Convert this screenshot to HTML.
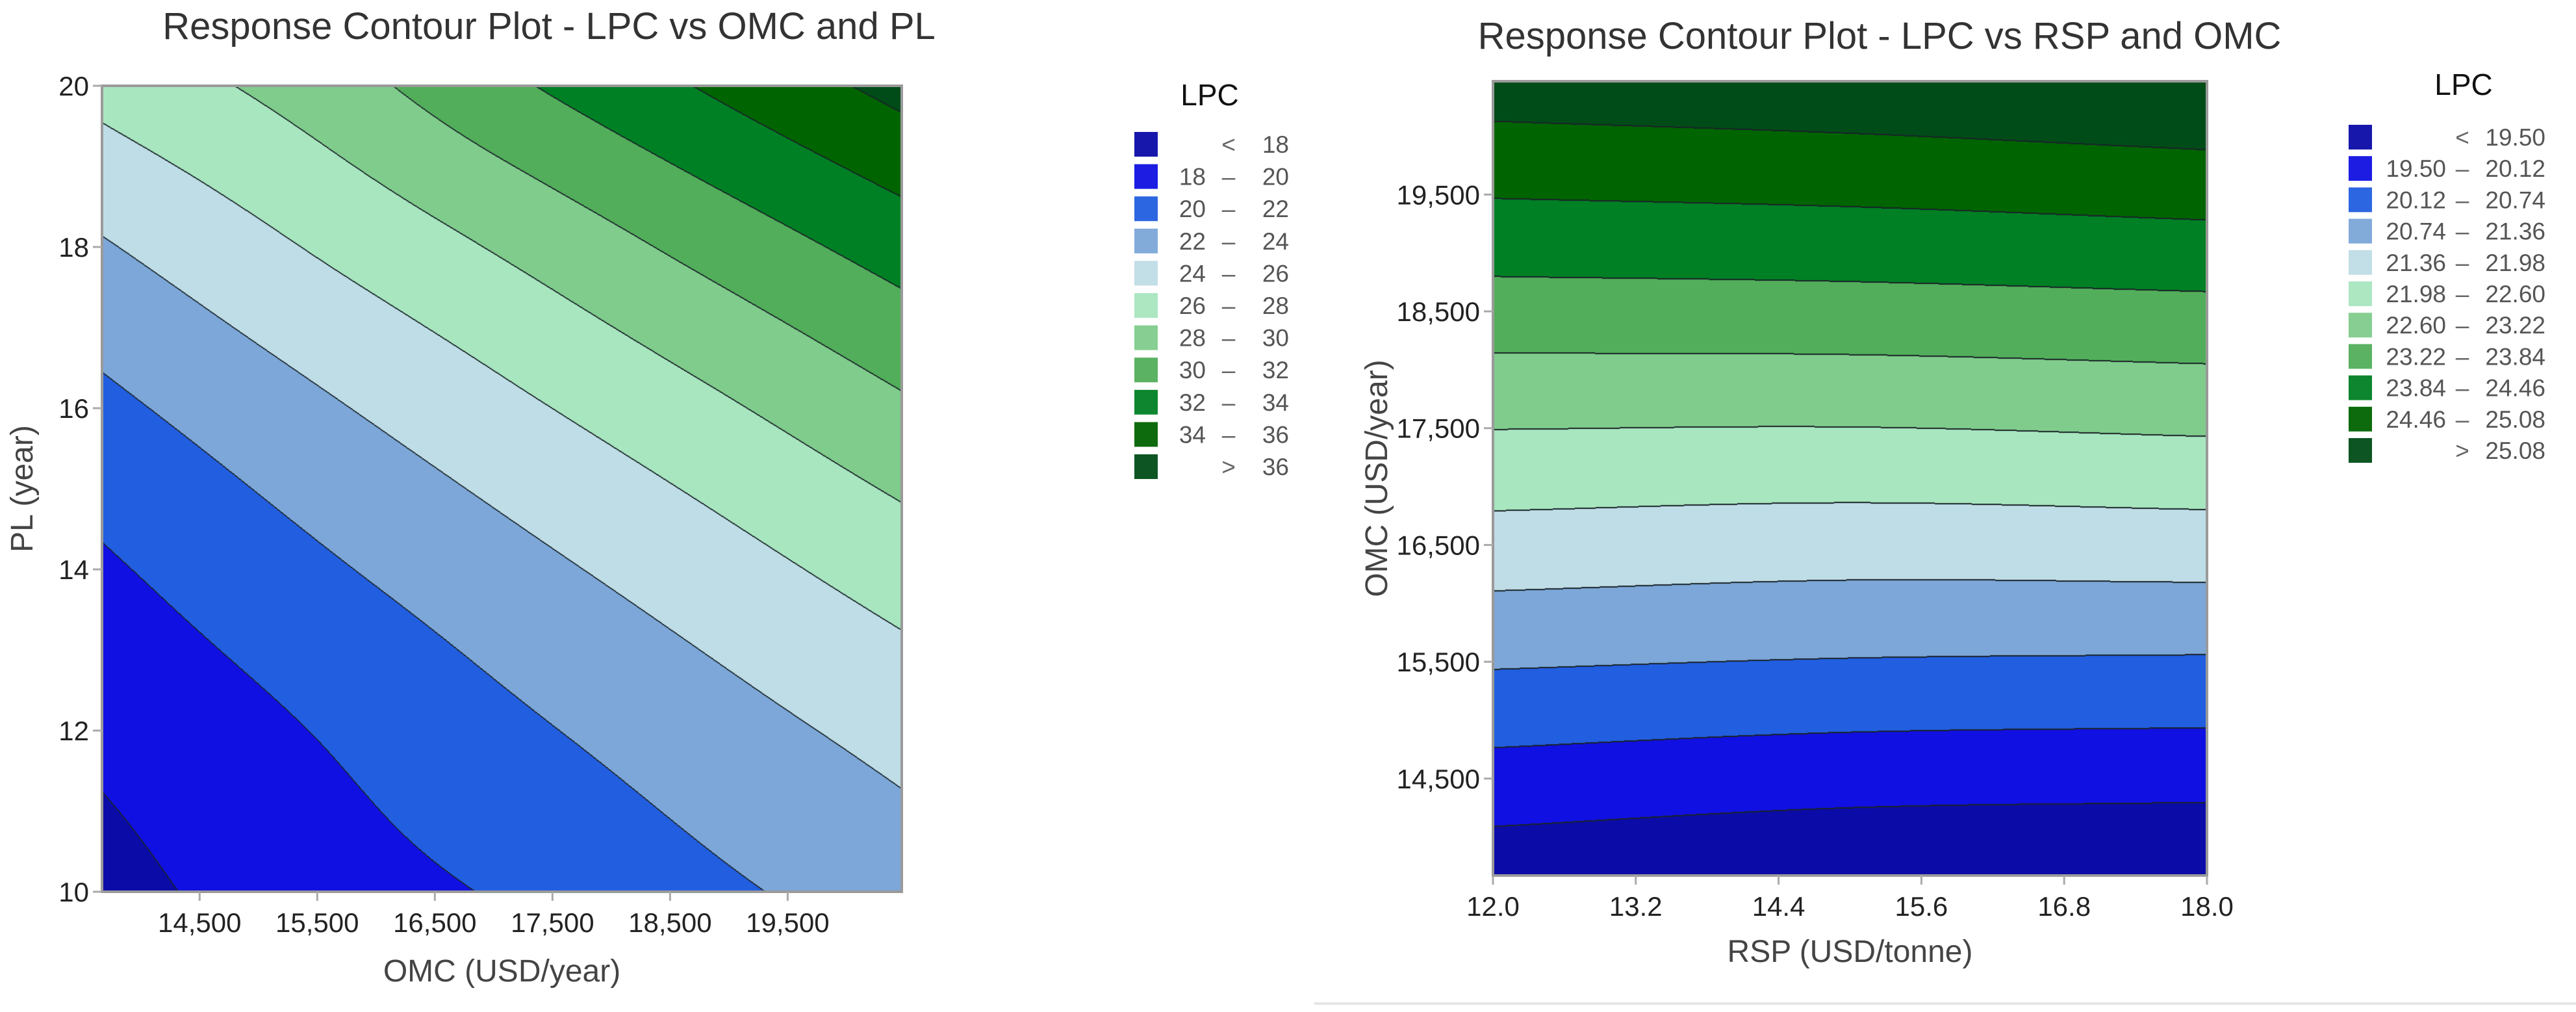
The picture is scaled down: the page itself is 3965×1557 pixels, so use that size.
<!DOCTYPE html>
<html><head><meta charset="utf-8"><style>
body{margin:0;background:#fff;}
#wrap{position:relative;width:3965px;height:1557px;overflow:hidden;background:#fff;}
canvas{position:absolute;left:0;top:0;}
svg{position:absolute;left:0;top:0;}
text{font-family:"Liberation Sans",sans-serif;}
</style></head><body>
<div id="wrap">
<canvas id="cv" width="3965" height="1557"></canvas>
<svg id="sv" width="3965" height="1557"></svg>
</div>
<script>
// ---------- Left chart data: LPC vs OMC and PL ----------
const leftOMC = [13670, 15370, 17070, 18770, 20470];
const leftPL = [20, 18, 16, 14, 12, 10];
const leftZ = [
 [26.66, 28.76, 31.56, 34.12, 36.63],
 [23.82, 26.01, 28.21, 30.56, 32.88],
 [21.53, 23.52, 25.50, 27.52, 29.68],
 [19.73, 21.54, 23.29, 25.05, 26.91],
 [18.43, 19.95, 21.55, 23.10, 24.66],
 [17.33, 19.02, 20.16, 21.56, 22.94]
];
const leftLevels = [18, 20, 22, 24, 26, 28, 30, 32, 34, 36];
const leftXTicks = [14500, 15500, 16500, 17500, 18500, 19500];
const leftXTickLabels = ["14,500", "15,500", "16,500", "17,500", "18,500", "19,500"];
const leftYTicks = [10, 12, 14, 16, 18, 20];
const leftLegendLabels = [["", "<", "18"], ["18", "–", "20"], ["20", "–", "22"], ["22", "–", "24"], ["24", "–", "26"], ["26", "–", "28"], ["28", "–", "30"], ["30", "–", "32"], ["32", "–", "34"], ["34", "–", "36"], ["", ">", "36"]];

// ---------- Right chart data: LPC vs RSP and OMC ----------
const rightRSP = [12, 15, 18];
const rightOMC = [20470, 19500, 18500, 17500, 16500, 15500, 14500, 13670];
const rightZ = [
 [25.40, 25.52, 25.69],
 [24.49, 24.56, 24.68],
 [23.56, 23.59, 23.67],
 [22.61, 22.59, 22.67],
 [21.72, 21.64, 21.68],
 [20.80, 20.71, 20.68],
 [19.89, 19.75, 19.71],
 [19.12, 18.96, 18.90]
];
const rightLevels = [19.50, 20.12, 20.74, 21.36, 21.98, 22.60, 23.22, 23.84, 24.46, 25.08];
const rightXTicks = [12.0, 13.2, 14.4, 15.6, 16.8, 18.0];
const rightYTicks = [14500, 15500, 16500, 17500, 18500, 19500];
const rightYTickLabels = ["14,500", "15,500", "16,500", "17,500", "18,500", "19,500"];
const rightLegendLabels = [["", "<", "19.50"], ["19.50", "–", "20.12"], ["20.12", "–", "20.74"], ["20.74", "–", "21.36"], ["21.36", "–", "21.98"], ["21.98", "–", "22.60"], ["22.60", "–", "23.22"], ["23.22", "–", "23.84"], ["23.84", "–", "24.46"], ["24.46", "–", "25.08"], ["", ">", "25.08"]];

const bandColors = ["#0b0ba8", "#1010e2", "#225ee0", "#7ca7d8", "#bfdde6", "#a8e6bf", "#80cc8c", "#52ae5a", "#008024", "#006400", "#004c18"];

function hex(c){return [parseInt(c.substr(1,2),16),parseInt(c.substr(3,2),16),parseInt(c.substr(5,2),16)];}
const rgb = bandColors.map(hex);

function fracIndex(arr, v){
  const asc = arr[arr.length-1] > arr[0];
  for(let i=0;i<arr.length-1;i++){
    const a=arr[i], b=arr[i+1];
    if((asc && v<=b) || (!asc && v>=b) || i===arr.length-2){
      return i+(v-a)/(b-a);
    }
  }
}
function cr(p0,p1,p2,p3,t){
  return 0.5*((2*p1)+(-p0+p2)*t+(2*p0-5*p1+4*p2-p3)*t*t+(-p0+3*p1-3*p2+p3)*t*t*t);
}
function sample1(arr,k){
  const n=arr.length;
  if(k<0) return 2*arr[0]-arr[1];
  if(k>n-1) return 2*arr[n-1]-arr[n-2];
  return arr[k];
}
function interp1(arr,f){
  let i=Math.floor(f); if(i>arr.length-2) i=arr.length-2; if(i<0) i=0;
  const t=f-i;
  return cr(sample1(arr,i-1),sample1(arr,i),sample1(arr,i+1),sample1(arr,i+2),t);
}
function bicubic(xs, ys, Z, x, y){
  const fx=fracIndex(xs,x), fy=fracIndex(ys,y);
  const col=Z.map(row=>interp1(row,fx));
  return interp1(col,fy);
}
function band(levels,z){let b=0;while(b<levels.length && z>=levels[b])b++;return b;}

const cv=document.getElementById('cv');
const ctx=cv.getContext('2d');

function drawField(p, xs, ys, Z, levels, xmin, xmax, ymin, ymax){
  const w=p.x1-p.x0, h=p.y1-p.y0;
  const img=ctx.createImageData(w,h);
  const B=new Int8Array(w*h);
  for(let py=0;py<h;py++){
    const yv=ymax-(py+0.5)/h*(ymax-ymin);
    for(let px=0;px<w;px++){
      const xv=xmin+(px+0.5)/w*(xmax-xmin);
      B[py*w+px]=band(levels,bicubic(xs,ys,Z,xv,yv));
    }
  }
  for(let py=0;py<h;py++){
    for(let px=0;px<w;px++){
      const k=py*w+px, b=B[k];
      let edge=false;
      if(px<w-1 && B[k+1]!==b) edge=true;
      if(py<h-1 && B[k+w]!==b) edge=true;
      if(px>0 && B[k-1]!==b) edge=true;
      if(py>0 && B[k-w]!==b) edge=true;
      const c=rgb[b];
      const o=k*4;
      if(edge){img.data[o]=25;img.data[o+1]=35;img.data[o+2]=40;}
      else{img.data[o]=c[0];img.data[o+1]=c[1];img.data[o+2]=c[2];}
      img.data[o+3]=255;
    }
  }
  ctx.putImageData(img,p.x0,p.y0);
}

const LP={x0:157,x1:1388,y0:132,y1:1372};
const RP={x0:2298,x1:3397,y0:125,y1:1347};
drawField(LP,leftOMC,leftPL,leftZ,leftLevels,13670,20470,10,20);
drawField(RP,rightRSP,rightOMC,rightZ,rightLevels,12,18,13670,20470);

const NS='http://www.w3.org/2000/svg';
const sv=document.getElementById('sv');
function el(tag,attrs,txt){const e=document.createElementNS(NS,tag);for(const k in attrs)e.setAttribute(k,attrs[k]);if(txt!==undefined)e.textContent=txt;sv.appendChild(e);return e;}

function axes(p, xmin, xmax, ymin, ymax, xt, xtl, yt, ytl, title, xtitle, ytitle, titleX, titleY, xtitleY, ytitleX, prefix){
  const sx=v=>p.x0+(v-xmin)/(xmax-xmin)*(p.x1-p.x0);
  const sy=v=>p.y1-(v-ymin)/(ymax-ymin)*(p.y1-p.y0);
  let r=el('rect',{x:p.x0,y:p.y0,width:p.x1-p.x0,height:p.y1-p.y0,fill:'none',stroke:'#9a9a9a','stroke-width':4});
  
  
  xt.forEach((v,i)=>{
    const x=sx(v);
    let t=el('line',{x1:x,y1:p.y1,x2:x,y2:p.y1+14,stroke:'#aaa','stroke-width':3});
    
    
    let l=el('text',{x:x,y:p.y1+62,'font-size':42,'text-anchor':'middle',fill:'#222'},xtl[i]);
    
    
  });
  yt.forEach((v,i)=>{
    const y=sy(v);
    let t=el('line',{x1:p.x0-14,y1:y,x2:p.x0,y2:y,stroke:'#aaa','stroke-width':3});
    
    
    let l=el('text',{x:p.x0-20,y:y+15,'font-size':42,'text-anchor':'end',fill:'#222'},ytl[i]);
    
    
  });
  let tt=el('text',{x:titleX,y:titleY,'font-size':58,'text-anchor':'middle',fill:'#333'},title);
  
  
  let xa=el('text',{x:(p.x0+p.x1)/2,y:xtitleY,'font-size':48,'text-anchor':'middle',fill:'#444'},xtitle);
  
  
  const cy=(p.y0+p.y1)/2;
  let ya=el('text',{x:ytitleX,y:cy,'font-size':48,'text-anchor':'middle',fill:'#444',transform:'rotate(-90 '+ytitleX+' '+cy+')'},ytitle);
  
  
}
axes(LP,13670,20470,10,20,leftXTicks,leftXTickLabels,leftYTicks,leftYTicks.map(String),
 'Response Contour Plot - LPC vs OMC and PL','OMC (USD/year)','PL (year)',845,60,1510,50,'left');
axes(RP,12,18,13670,20470,rightXTicks,rightXTicks.map(v=>v.toFixed(1)),rightYTicks,rightYTickLabels,
 'Response Contour Plot - LPC vs RSP and OMC','RSP (USD/tonne)','OMC (USD/year)',2893,75,1480,2135,'right');

function legend(x0, titleX, titleY, y0, dy, labels, numL, dashX, numR, prefix){
  let t=el('text',{x:titleX,y:titleY,'font-size':46,'text-anchor':'middle',fill:'#111','font-family':'Liberation Serif, serif'},'LPC');
  
  
  labels.forEach((lb,i)=>{
    const y=y0+i*dy;
    let s=el('rect',{x:x0,y:y-20,width:38,height:40,fill:bandColors[i],stroke:'#fff','stroke-width':2,opacity:0.95});
    
    
    if(lb[0]){let a=el('text',{x:numL,y:y+13,'font-size':37,'text-anchor':'end',fill:'#555'},lb[0]);
      
      }
    let d=el('text',{x:dashX,y:y+13,'font-size':37,'text-anchor':'middle',fill:'#666'},lb[1]);
    
    
    let b=el('text',{x:numR,y:y+13,'font-size':37,'text-anchor':'end',fill:'#555'},lb[2]);
    
    
  });
}
legend(1745,1862,162,222,49.6,leftLegendLabels,1856,1891,1984,'left');
legend(3614,3792,146,211,48.2,rightLegendLabels,3765,3790,3918,'right');

let bl=el('line',{x1:2023,y1:1544,x2:3965,y2:1544,stroke:'#e6e6e6','stroke-width':4});


</script>
</body></html>
